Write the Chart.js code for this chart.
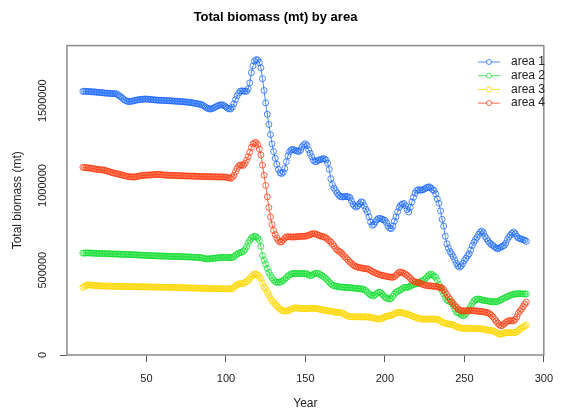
<!DOCTYPE html>
<html>
<head>
<meta charset="utf-8">
<title>Total biomass (mt) by area</title>
<script src="https://cdn.jsdelivr.net/npm/chart.js@4.4.1/dist/chart.umd.min.js"></script>
<style>
  html, body { margin: 0; padding: 0; background: #fff; }
  canvas { display: block; }
</style>
</head>
<body>
<canvas id="myChart" width="563" height="415"></canvas>
<script>
// years on the x axis
const years = [
  10,11,12,13,14,15,16,17,18,19, 20,21,22,23,24,25,26,27,28,29,
  30,31,32,33,34,35,36,37,38,39, 40,41,42,43,44,45,46,47,48,49,
  50,51,52,53,54,55,56,57,58,59, 60,61,62,63,64,65,66,67,68,69,
  70,71,72,73,74,75,76,77,78,79, 80,81,82,83,84,85,86,87,88,89,
  90,91,92,93,94,95,96,97,98,99, 100,101,102,103,104,105,106,107,108,109,
  110,111,112,113,114,115,116,117,118,119, 120,121,122,123,124,125,126,127,128,129,
  130,131,132,133,134,135,136,137,138,139, 140,141,142,143,144,145,146,147,148,149,
  150,151,152,153,154,155,156,157,158,159, 160,161,162,163,164,165,166,167,168,169,
  170,171,172,173,174,175,176,177,178,179, 180,181,182,183,184,185,186,187,188,189,
  190,191,192,193,194,195,196,197,198,199, 200,201,202,203,204,205,206,207,208,209,
  210,211,212,213,214,215,216,217,218,219, 220,221,222,223,224,225,226,227,228,229,
  230,231,232,233,234,235,236,237,238,239, 240,241,242,243,244,245,246,247,248,249,
  250,251,252,253,254,255,256,257,258,259, 260,261,262,263,264,265,266,267,268,269,
  270,271,272,273,274,275,276,277,278,279, 280,281,282,283,284,285,286,287,288,289
];

// biomass per area, in thousands of mt
const area1 = [
  1555,1556,1555,1554,1554,1553,1552,1552,1551,1550,
  1549,1548,1547,1546,1545,1544,1544,1543,1542,1542,
  1542,1541,1535,1528,1522,1514,1506,1500,1496,1495,
  1496,1497,1500,1502,1504,1506,1507,1508,1509,1510,
  1510,1509,1508,1507,1506,1505,1504,1503,1503,1502,
  1502,1501,1501,1500,1500,1499,1499,1498,1497,1497,
  1496,1495,1495,1494,1493,1492,1491,1490,1489,1487,
  1486,1484,1482,1480,1478,1475,1470,1463,1457,1453,
  1451,1452,1456,1461,1466,1470,1474,1476,1475,1470,
  1463,1456,1452,1451,1462,1482,1506,1528,1545,1556,
  1558,1557,1556,1556,1570,1605,1665,1705,1733,1742,
  1740,1725,1694,1630,1560,1487,1420,1360,1300,1245,
  1200,1160,1125,1095,1075,1070,1078,1100,1140,1175,
  1198,1210,1212,1210,1205,1202,1200,1210,1228,1240,
  1246,1235,1210,1190,1170,1150,1140,1142,1148,1152,
  1155,1158,1157,1150,1131,1095,1040,1005,985,970,
  955,943,935,932,933,935,935,933,928,910,
  890,878,873,880,892,903,900,880,860,844,
  815,785,765,770,785,798,805,806,802,798,
  795,780,760,748,745,760,790,814,845,870,
  884,890,894,880,858,844,870,903,930,955,
  970,975,973,972,975,980,986,990,992,985,
  975,970,950,920,895,850,800,760,700,656,
  630,610,597,580,560,540,525,518,525,540,
  557,570,585,597,620,645,665,680,695,712,
  725,731,720,700,686,672,660,652,646,638,
  630,627,630,636,642,646,660,680,696,708,
  718,725,715,700,690,686,684,680,677,670
];

const area2 = [
  601,601,602,602,602,601,601,600,600,599,
  599,599,598,598,598,597,597,597,596,596,
  596,595,595,595,594,594,594,593,593,593,
  592,592,591,591,590,590,589,589,588,588,
  587,587,586,586,586,585,585,585,584,584,
  584,583,583,583,582,582,582,581,581,581,
  581,580,580,580,579,579,579,578,578,577,
  577,576,576,575,574,573,570,568,567,567,
  568,569,570,571,572,573,574,575,576,576,
  576,575,574,573,575,580,588,595,600,604,
  607,612,622,640,660,676,688,696,700,698,
  690,676,640,587,560,535,510,488,470,455,
  442,432,429,428,430,434,439,447,456,465,
  472,478,480,481,481,480,480,480,480,480,
  480,478,472,468,470,476,480,482,481,476,
  470,464,458,450,440,430,420,412,409,406,
  404,402,401,400,400,399,399,398,397,396,
  395,394,393,392,391,390,389,386,380,370,
  362,355,350,350,356,364,370,370,362,352,
  342,336,332,330,334,346,360,370,375,380,
  385,392,398,399,399,401,406,412,416,419,
  420,424,430,436,439,445,455,466,474,478,
  472,465,458,440,415,395,380,360,340,325,
  318,314,310,290,270,252,251,245,238,231,
  235,245,258,271,288,305,318,326,330,330,
  328,325,322,320,320,318,316,315,314,314,
  314,316,320,325,330,335,340,344,348,352,
  355,358,360,361,362,362,361,360,360,360
];

const area3 = [
  399,405,410,413,413,412,411,410,409,409,
  408,408,407,407,407,406,406,406,405,405,
  405,405,405,405,405,404,404,404,404,403,
  403,403,403,403,403,402,402,402,402,402,
  402,402,401,401,401,401,401,400,400,400,
  400,400,399,399,399,399,399,398,398,398,
  398,397,397,397,397,396,396,396,395,395,
  395,395,394,394,394,393,393,393,393,392,
  392,392,392,392,391,391,391,391,391,390,
  390,390,390,390,392,398,408,415,419,420,
  420,422,428,434,439,450,462,472,478,477,
  470,462,450,425,400,390,370,352,335,320,
  310,300,290,280,272,265,261,259,260,261,
  264,270,274,277,278,277,276,275,274,274,
  273,273,274,275,276,276,275,274,272,270,
  268,266,264,262,261,260,258,256,254,253,
  252,251,251,248,244,238,232,228,226,225,
  225,225,225,225,225,224,224,225,225,225,
  224,222,220,218,215,213,212,212,215,220,
  224,228,230,231,233,238,244,248,250,251,
  251,249,246,243,241,238,235,231,227,223,
  220,217,214,212,211,211,212,212,212,212,
  212,212,212,210,206,200,195,190,186,184,
  183,182,180,176,172,168,164,161,159,158,
  158,157,157,157,157,157,156,156,156,156,
  155,154,152,150,148,146,145,144,142,138,
  133,127,123,123,126,129,131,132,132,132,
  132,132,133,137,145,152,160,166,171,175
];

const area4 = [
  1107,1106,1105,1104,1103,1102,1100,1098,1097,1095,
  1094,1093,1092,1091,1089,1086,1083,1080,1077,1074,
  1072,1070,1068,1066,1063,1061,1058,1056,1054,1052,
  1051,1050,1050,1051,1053,1055,1057,1058,1059,1060,
  1061,1061,1062,1063,1064,1064,1065,1066,1065,1064,
  1063,1062,1061,1061,1060,1060,1060,1059,1059,1058,
  1058,1058,1057,1057,1057,1056,1056,1056,1055,1055,
  1055,1054,1054,1054,1053,1053,1053,1052,1052,1052,
  1052,1051,1051,1051,1051,1050,1050,1050,1050,1050,
  1049,1047,1044,1042,1048,1060,1081,1100,1115,1121,
  1120,1118,1130,1150,1170,1195,1225,1245,1252,1253,
  1240,1215,1180,1120,1060,1000,933,870,814,770,
  735,710,690,675,666,668,678,690,696,698,
  697,696,696,696,697,698,699,700,700,700,
  701,703,706,710,714,716,715,712,708,703,
  700,698,696,690,682,674,666,655,643,630,
  620,612,607,598,588,578,568,558,548,540,
  532,525,520,518,516,514,512,510,509,508,
  504,498,493,488,484,480,476,472,470,468,
  466,464,462,460,459,458,462,470,480,488,
  489,486,482,476,470,462,452,442,435,431,
  429,427,424,420,416,412,410,409,408,407,
  406,405,404,402,400,399,395,385,370,355,
  340,328,315,302,291,282,272,265,261,260,
  260,260,261,261,262,262,261,260,259,258,
  257,256,255,253,251,248,243,235,225,212,
  200,188,178,172,175,183,192,198,202,203,
  202,202,210,225,245,260,271,285,300,312
];

const areaNames = ['area 1', 'area 2', 'area 3', 'area 4'];
const areaColors = ['rgba(20,100,255,0.75)', 'rgba(10,220,40,0.75)', 'rgba(255,215,0,0.85)', 'rgba(255,55,10,0.75)'];
const yTickValues = [0, 500000, 1000000, 1500000];
const yTickLabels = ['0', '500000', '1000000', '1500000'];

const FONT = '"Liberation Sans", Arial, Helvetica, sans-serif';
Chart.defaults.font.family = FONT;
Chart.defaults.color = '#222';

function toPoints(values) {
    // values are in thousands of mt
    return years.map(function (yr, i) {
        return { x: yr, y: values[i] * 1000 };
    });
}

const allAreas = [area1, area2, area3, area4];
const datasets = allAreas.map(function (vals, i) {
    return {
        label: areaNames[i],
        data: toPoints(vals),
        borderColor: areaColors[i],
        borderWidth: 1,
        pointRadius: 3,
        pointBorderWidth: 1,
        pointBorderColor: areaColors[i],
        pointBackgroundColor: 'rgba(255,255,255,0)',
        fill: false,
        tension: 0,
        order: 4 - i   // later areas drawn on top
    };
});

// box round the plot, rotated y labels and the legend
const rStyle = {
    id: 'rStyle',
    afterDraw: function (chart) {
        const ctx = chart.ctx;
        const a = chart.chartArea;
        ctx.save();
        ctx.strokeStyle = '#8a8a8a';
        ctx.lineWidth = 1.5;
        ctx.strokeRect(a.left, a.top, a.right - a.left, a.bottom - a.top);

        // y tick labels, parallel to the axis
        const ys = chart.scales.y;
        ctx.fillStyle = '#222';
        ctx.font = '11px ' + FONT;
        ctx.textAlign = 'center';
        ctx.textBaseline = 'middle';
        for (let i = 0; i < yTickValues.length; i++) {
            const py = ys.getPixelForValue(yTickValues[i]);
            ctx.save();
            ctx.translate(43, py);
            ctx.rotate(-Math.PI / 2);
            ctx.fillText(yTickLabels[i], 0, 0);
            ctx.restore();
        }

        // legend, top right inside the plot
        ctx.font = '12px ' + FONT;
        ctx.textAlign = 'left';
        for (let i = 0; i < areaNames.length; i++) {
            const ly = 62 + i * 13.7;
            ctx.strokeStyle = areaColors[i];
            ctx.lineWidth = 1;
            ctx.beginPath();
            ctx.moveTo(478, ly);
            ctx.lineTo(500, ly);
            ctx.stroke();
            ctx.beginPath();
            ctx.fillStyle = '#fff';
            ctx.arc(489, ly, 2.5, 0, Math.PI * 2);
            ctx.fill();
            ctx.stroke();
            ctx.fillStyle = '#222';
            ctx.fillText(areaNames[i], 511, ly);
        }
        ctx.restore();
    }
};

const ctx = document.getElementById('myChart').getContext('2d');
const chart = new Chart(ctx, {
    type: 'line',
    data: { datasets: datasets },
    plugins: [rStyle],
    options: {
        responsive: false,
        animation: false,
        layout: { padding: { left: 0, right: 12, top: 0, bottom: 0 } },
        plugins: {
            legend: { display: false },
            tooltip: { enabled: false },
            title: {
                display: true,
                text: 'Total biomass (mt) by area',
                color: '#000',
                font: { size: 13, weight: 'bold' },
                padding: { top: 10, bottom: 20 }
            }
        },
        scales: {
            x: {
                type: 'linear',
                min: 0,
                max: 300,
                afterBuildTicks: function (s) {
                    s.ticks = s.ticks.filter(function (t) { return t.value > 0 && t.value % 50 === 0; });
                },
                afterFit: function (s) { s.height = 60; },
                ticks: { stepSize: 50, padding: 10, maxRotation: 0, font: { size: 11 }, color: '#222' },
                grid: { drawOnChartArea: false, tickLength: 7, color: '#555', lineWidth: 1 },
                border: { display: false },
                title: { display: true, text: 'Year', color: '#222', font: { size: 12 }, padding: { top: 0, bottom: 4 } }
            },
            y: {
                min: 0,
                max: 1825000,
                afterBuildTicks: function (s) {
                    s.ticks = s.ticks.filter(function (t) { return t.value % 500000 === 0; });
                },
                afterFit: function (s) { s.width = 67; },
                ticks: { display: false, stepSize: 500000 },
                grid: { drawOnChartArea: false, tickLength: 7, color: '#555', lineWidth: 1 },
                border: { display: false },
                title: { display: true, text: 'Total biomass (mt)', color: '#222', font: { size: 12 }, padding: { top: 10, bottom: 0 } }
            }
        }
    }
});
</script>
</body>
</html>
